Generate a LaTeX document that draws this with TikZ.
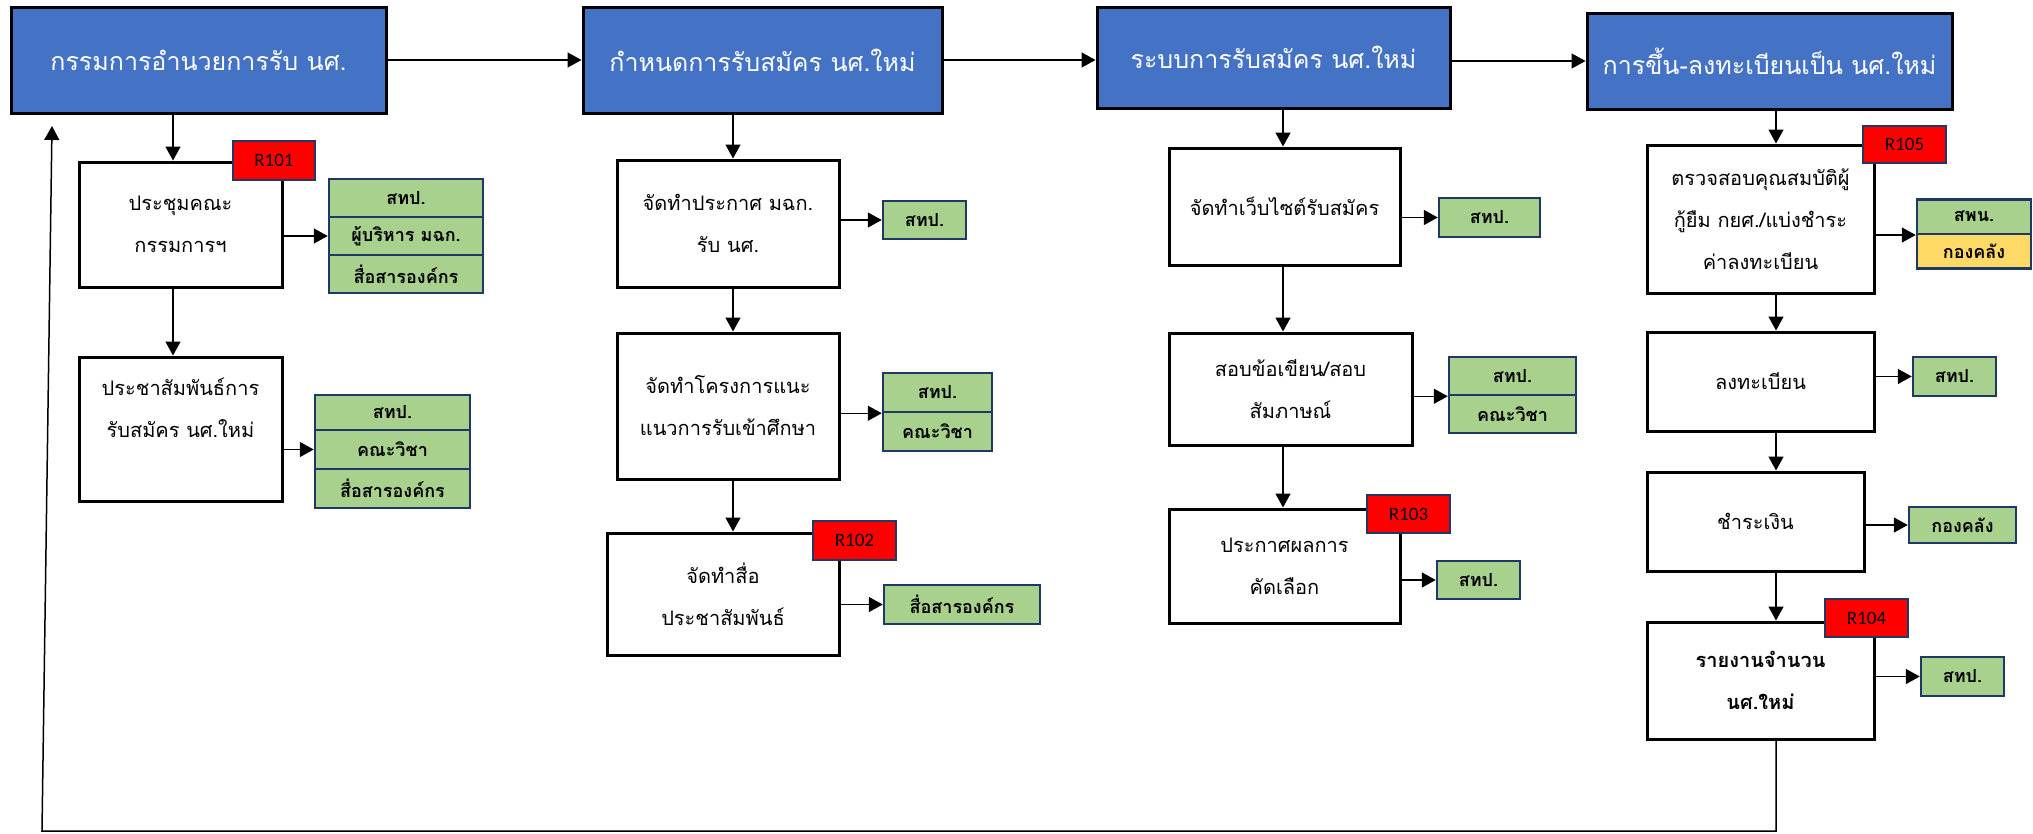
\documentclass[tikz,border=0pt]{standalone}
\usepackage{fontspec}
\newfontfamily\thaifont[Script=Thai]{Loma}
\newfontfamily\codefont{Carlito}
\usetikzlibrary{arrows.meta}
\definecolor{headblue}{HTML}{4472C4}
\definecolor{unitgreen}{HTML}{A9D18E}
\definecolor{unityellow}{HTML}{FFD966}
\definecolor{unitnavy}{HTML}{1F3864}
\tikzset{
  wh/.style 2 args={minimum width=#1pt, minimum height=#2pt, inner sep=0pt},
  headbox/.style={draw, line width=3pt, fill=headblue, text=white, font=\fontsize{25}{30}\selectfont\thaifont},
  stepbox/.style={draw, line width=3pt, fill=white, align=center, font=\fontsize{20}{42}\selectfont\thaifont},
  unitbox/.style={draw=unitnavy, line width=2.5pt, fill=unitgreen, font=\fontsize{18}{20}\selectfont\thaifont\bfseries},
  riskbox/.style={draw=unitnavy, line width=2.5pt, fill=red, font=\fontsize{19}{20}\selectfont\codefont},
  flow/.style={->, line width=1.5pt}
}
\begin{document}
\begin{tikzpicture}[x=1pt,y=-1pt,>={Triangle[width=15pt,length=14pt]}]
\useasboundingbox (0,0) rectangle (2033,833);
% main stages
\node[headbox,wh={375}{106}] (head1) at (198.5,60) {กรรมการอำนวยการรับ นศ.};
\node[headbox,wh={359}{106}] (head2) at (762.5,60) {กำหนดการรับสมัคร นศ.ใหม่};
\node[headbox,wh={353}{101}] (head3) at (1273.5,57.5) {ระบบการรับสมัคร นศ.ใหม่};
\node[headbox,wh={365}{96}] (head4) at (1769.5,61) {การขึ้น-ลงทะเบียนเป็น นศ.ใหม่};
\draw[flow] (head1.east) -- (head2.west);
\draw[flow] (head2.east) -- (head2.east -| head3.west);
\draw[flow] (head3.east |- head4.west) -- (head4.west);
% where the down arrows run
\coordinate (col1) at (173,0);
\coordinate (col2) at (733,0);
\coordinate (col3) at (1283,0);
\coordinate (col4) at (1776,0);
% column 1
\node[stepbox,wh={203}{125}] (s11) at (180.5,224.5) {ประชุมคณะ\\กรรมการฯ};
\node[stepbox,wh={203}{144}] (s12) at (180.5,429) {ประชาสัมพันธ์การ\\รับสมัคร นศ.ใหม่\\\mbox{}};
\node[riskbox,wh={82}{39}] (r101) at (274,160.5) {R101};
\node[unitbox,wh={154}{38}] (u11a) at (406,198) {สทป.};
\node[unitbox,wh={154}{38}] (u11b) at (406,236) {ผู้บริหาร มฉก.};
\node[unitbox,wh={154}{38}] (u11c) at (406,274) {สื่อสารองค์กร};
\node[unitbox,wh={155}{35}] (u12a) at (392.5,412.5) {สทป.};
\node[unitbox,wh={155}{39},text depth=-6pt] (u12b) at (392.5,449.5) {คณะวิชา};
\node[unitbox,wh={155}{39}] (u12c) at (392.5,488.5) {สื่อสารองค์กร};
\draw[flow] (head1.south -| col1) -- (s11.north -| col1);
\draw[flow] (s11.south -| col1) -- (s12.north -| col1);
\draw[flow] (s11.east |- u11b.west) -- (u11b.west);
\draw[flow] (s12.east |- u12b.west) -- (u12b.west);
% column 2
\node[stepbox,wh={222}{127}] (s21) at (728,223.5) {จัดทำประกาศ มฉก.\\รับ นศ.};
\node[stepbox,wh={222}{146}] (s22) at (728,406) {จัดทำโครงการแนะ\\แนวการรับเข้าศึกษา};
\node[stepbox,wh={232}{122}] (s23) at (723,594) {จัดทำสื่อ\\ประชาสัมพันธ์};
\node[riskbox,wh={83}{39}] (r102) at (854.5,540.5) {R102};
\node[unitbox,wh={83}{38}] (u21) at (924.5,220) {สทป.};
\node[unitbox,wh={109}{39}] (u22a) at (937.5,392.5) {สทป.};
\node[unitbox,wh={109}{39}] (u22b) at (937.5,431.5) {คณะวิชา};
\node[unitbox,wh={156}{39}] (u23) at (962,604.5) {สื่อสารองค์กร};
\draw[flow] (head2.south -| col2) -- (s21.north -| col2);
\draw[flow] (s21.south -| col2) -- (s22.north -| col2);
\draw[flow] (s22.south -| col2) -- (s23.north -| col2);
\draw[flow] (s21.east |- u21.west) -- (u21.west);
\draw[flow] (s22.east |- u22a.south west) -- (u22a.south west);
\draw[flow] (s23.east |- u23.west) -- (u23.west);
% column 3
\node[stepbox,wh={231}{117}] (s31) at (1284.5,206.5) {จัดทำเว็บไซต์รับสมัคร};
\node[stepbox,wh={243}{112}] (s32) at (1290.5,389) {สอบข้อเขียน/สอบ\\สัมภาษณ์};
\node[stepbox,wh={231}{114}] (s33) at (1284.5,566) {ประกาศผลการ\\คัดเลือก};
\node[riskbox,wh={83}{38}] (r103) at (1408.5,514) {R103};
\node[unitbox,wh={101}{39}] (u31) at (1489.5,217.5) {สทป.};
\node[unitbox,wh={127}{38}] (u32a) at (1512.5,376) {สทป.};
\node[unitbox,wh={127}{38}] (u32b) at (1512.5,414) {คณะวิชา};
\node[unitbox,wh={83}{38}] (u33) at (1478.5,580) {สทป.};
\draw[flow] (head3.south -| col3) -- (s31.north -| col3);
\draw[flow] (s31.south -| col3) -- (s32.north -| col3);
\draw[flow] (s32.south -| col3) -- (s33.north -| col3);
\draw[flow] (s31.east |- u31.west) -- (u31.west);
\draw[flow] (s32.east |- u32a.south west) -- (u32a.south west);
\draw[flow] (s33.east |- u33.west) -- (u33.west);
% column 4
\node[stepbox,wh={227}{148}] (s41) at (1760.5,219) {ตรวจสอบคุณสมบัติผู้\\กู้ยืม กยศ./แบ่งชำระ\\ค่าลงทะเบียน};
\node[stepbox,wh={227}{99}] (s42) at (1760.5,381.5) {ลงทะเบียน};
\node[stepbox,wh={217}{99}] (s43) at (1755.5,521.5) {ชำระเงิน};
\node[stepbox,wh={227}{117},font=\fontsize{20}{42}\selectfont\thaifont\bfseries] (s44) at (1760.5,680.5) {รายงานจำนวน\\นศ.ใหม่};
\node[riskbox,wh={83}{37}] (r105) at (1904.5,144.5) {R105};
\node[riskbox,wh={83}{38}] (r104) at (1866.5,618) {R104};
\node[unitbox,wh={114}{34.5}] (u41a) at (1974,216.5) {สพน.};
\node[unitbox,wh={114}{34.5},fill=unityellow] (u41b) at (1974,251) {กองคลัง};
\node[unitbox,wh={83}{39}] (u42) at (1954.5,376.5) {สทป.};
\node[unitbox,wh={107}{36}] (u43) at (1962.5,525) {กองคลัง};
\node[unitbox,wh={83}{39}] (u44) at (1962.5,676.5) {สทป.};
\draw[flow] (head4.south -| col4) -- (s41.north -| col4);
\draw[flow] (s41.south -| col4) -- (s42.north -| col4);
\draw[flow] (s42.south -| col4) -- (s43.north -| col4);
\draw[flow] (s43.south -| col4) -- (s44.north -| col4);
\draw[flow] (s41.east |- u41a.south west) -- (u41a.south west);
\draw[flow] (s42.east |- u42.west) -- (u42.west);
\draw[flow] (s43.east |- u43.west) -- (u43.west);
\draw[flow] (s44.east |- u44.west) -- (u44.west);
% back to the start
\coordinate (loopcorner) at (42,831);
\coordinate (looptip) at (52,126);
\draw[flow] (s44.south -| col4) -- (loopcorner -| col4) -- (loopcorner) -- (looptip);
\end{tikzpicture}
\end{document}
